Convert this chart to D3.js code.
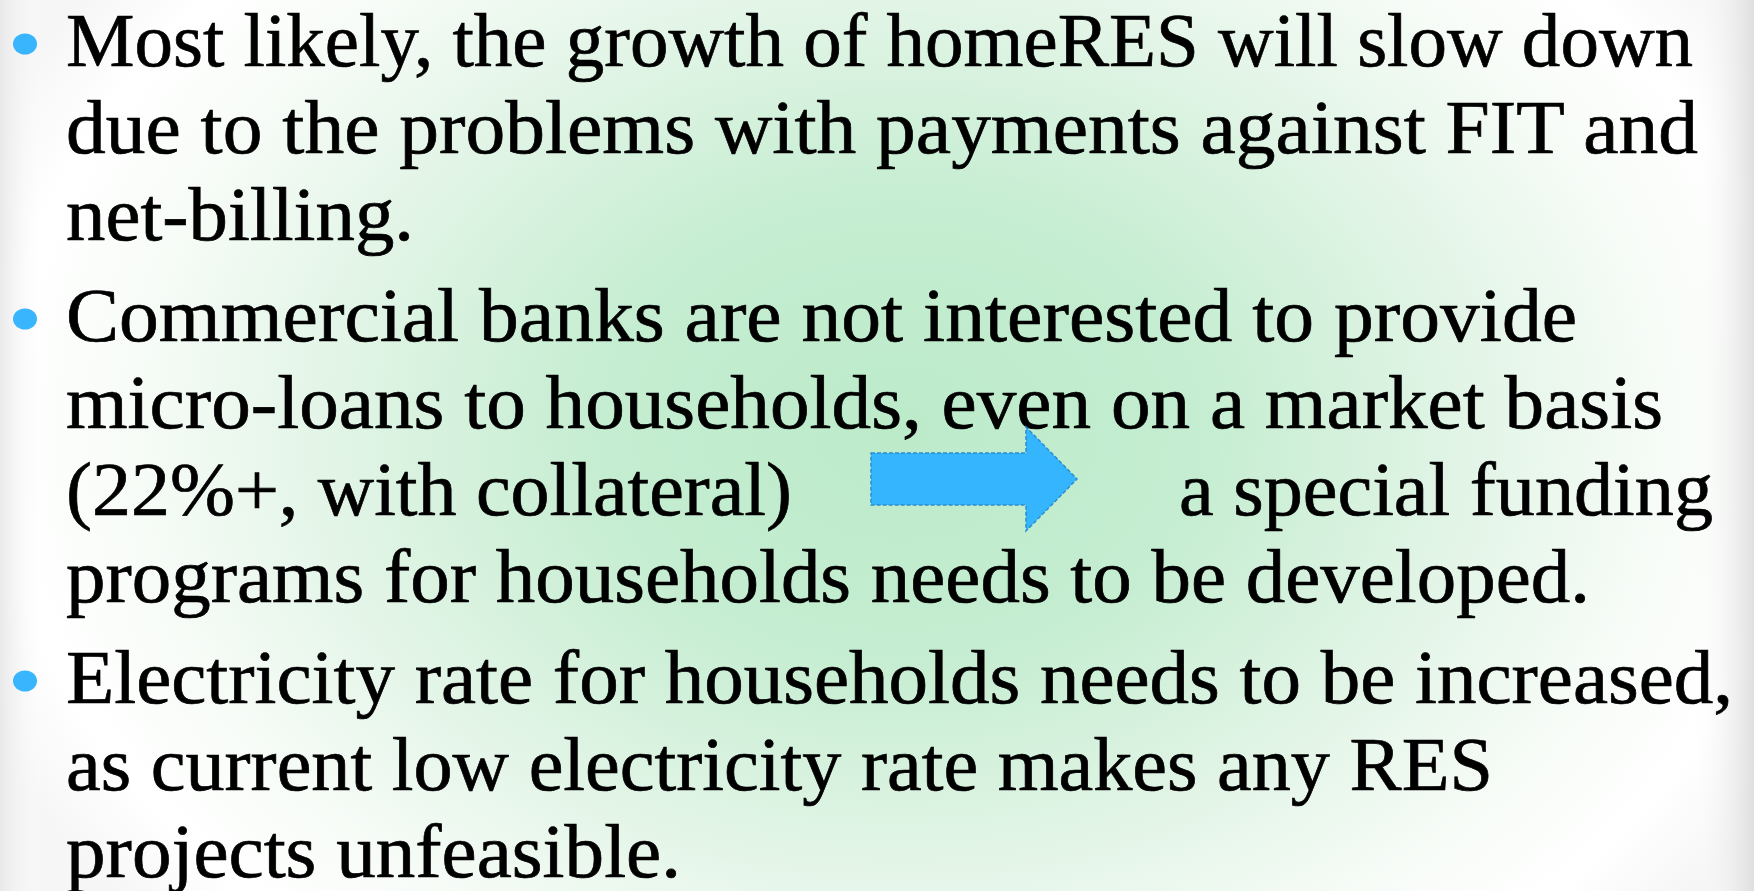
<!DOCTYPE html>
<html>
<head>
<meta charset="utf-8">
<script src="https://cdn.jsdelivr.net/npm/d3@7"></script>
<style>
  html, body { margin: 0; padding: 0; background: #fff; }
  svg { display: block; }
</style>
</head>
<body>
<div id="slide"></div>
<script>
// Slide text: one array per bullet, "|" marks the gap where the arrow sits
const bullet1 = ["Most likely, the growth of homeRES will slow down", "due to the problems with payments against FIT and", "net-billing."];
const bullet2 = ["Commercial banks are not interested to provide", "micro-loans to households, even on a market basis", "(22%+, with collateral)|a special funding", "programs for households needs to be developed."];
const bullet3 = ["Electricity rate for households needs to be increased,", "as current low electricity rate makes any RES", "projects unfeasible."];
const bullets = [bullet1, bullet2, bullet3];

const width = 1754, height = 891;
const textLeft = 66;
const lineStep = 87, paraGap = 14, firstBaseline = 66;
// right edge of every text segment, in reading order
const segRight = [1693, 1698, 414, 1577, 1663, 792, 1713, 1590, 1733, 1493, 681];
const afterArrowLeft = 1179;

const svg = d3.select("#slide")
    .append("svg")
    .attr("width", width)
    .attr("height", height);

// Background: soft green radial glow fading to white, greyish side edges
const defs = svg.append("defs");
const grad = defs.append("radialGradient")
    .attr("id", "bg")
    .attr("gradientUnits", "userSpaceOnUse")
    .attr("cx", 900).attr("cy", 430).attr("r", 1000)
    .attr("gradientTransform", "translate(900,430) scale(1,0.75) translate(-900,-430)");
[[0, "#bcebca"], [0.3, "#c5edd1"], [0.55, "#e0f4e5"], [0.78, "#f8fcf8"], [0.9, "#ffffff"], [1, "#f6f6f6"]]
    .forEach(s => grad.append("stop").attr("offset", s[0]).attr("stop-color", s[1]));

const edges = defs.append("linearGradient")
    .attr("id", "edges")
    .attr("gradientUnits", "userSpaceOnUse")
    .attr("x1", 0).attr("x2", width).attr("y1", 0).attr("y2", 0);
[[0, "#e6e6e6", 0.85], [0.025, "#ffffff", 0], [0.965, "#ffffff", 0], [1, "#dcdcdc", 0.9]]
    .forEach(s => edges.append("stop").attr("offset", s[0]).attr("stop-color", s[1]).attr("stop-opacity", s[2]));

svg.append("rect")
    .attr("width", width)
    .attr("height", height)
    .attr("fill", "url(#bg)");
svg.append("rect")
    .attr("width", width)
    .attr("height", height)
    .attr("fill", "url(#edges)");

// Flatten bullets into rows
const rows = [];
bullets.forEach((lines, p) => {
    lines.forEach((line, k) => rows.push({ text: line, para: p, first: k === 0 }));
});
rows.forEach((r, i) => r.row = i);

const y = d3.scaleLinear()
    .domain([0, rows.length - 1])
    .range([firstBaseline, firstBaseline + (rows.length - 1) * lineStep]);
const baseline = r => y(r.row) + r.para * paraGap;

// Bullets
svg.selectAll(".dot")
    .data(rows.filter(r => r.first))
    .join("ellipse")
    .attr("class", "dot")
    .attr("cx", 25)
    .attr("cy", r => baseline(r) - 22)
    .attr("rx", 12)
    .attr("ry", 10.5)
    .attr("fill", "#38b5fd");

// Text segments
const segs = [];
rows.forEach(r => {
    const parts = r.text.split("|");
    parts.forEach((t, j) => segs.push({ text: t, y: baseline(r), x: j === 0 ? textLeft : afterArrowLeft }));
});
segs.forEach((s, i) => s.right = segRight[i]);

svg.selectAll(".line")
    .data(segs)
    .join("text")
    .attr("class", "line")
    .attr("x", d => d.x)
    .attr("y", d => d.y)
    .attr("textLength", d => d.right - d.x)
    .attr("lengthAdjust", "spacingAndGlyphs")
    .style("font-family", "'Liberation Serif', 'DejaVu Serif', serif")
    .style("font-size", "77px")
    .style("fill", "#000")
    .style("stroke", "#000")
    .style("stroke-width", 0.7)
    .text(d => d.text);

// Block arrow between "(22%+, with collateral)" and "a special funding"
const arrowRow = rows.find(r => r.text.includes("|"));
const ay = baseline(arrowRow) - 36;
const ax0 = 871, ax1 = 1026, ax2 = 1077, shaft = 26, head = 52;
const arrow = d3.path();
arrow.moveTo(ax0, ay - shaft);
arrow.lineTo(ax1, ay - shaft);
arrow.lineTo(ax1, ay - head);
arrow.lineTo(ax2, ay);
arrow.lineTo(ax1, ay + head);
arrow.lineTo(ax1, ay + shaft);
arrow.lineTo(ax0, ay + shaft);
arrow.closePath();

svg.append("path")
    .attr("d", arrow.toString())
    .attr("fill", "#35b5fd")
    .attr("stroke", "#2a8fcf")
    .attr("stroke-width", 1.5)
    .attr("stroke-dasharray", "4,2");
</script>
</body>
</html>
